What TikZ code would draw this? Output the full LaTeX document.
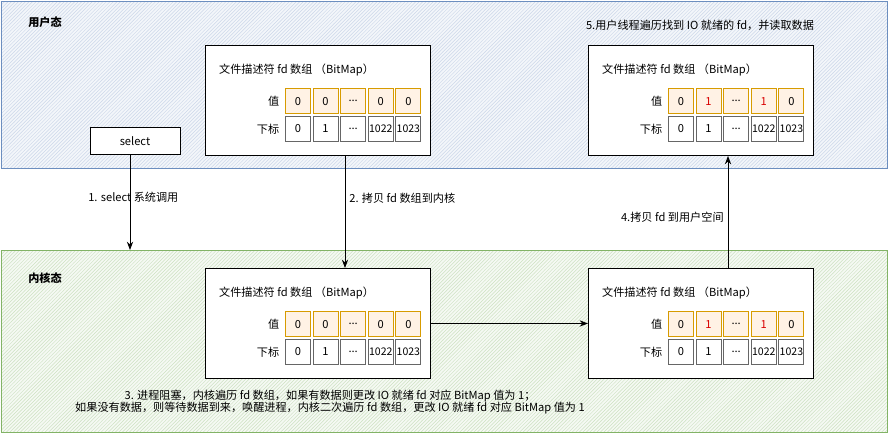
\documentclass[tikz,border=0pt]{standalone}
\usepackage{fontspec}
\setmainfont{Noto Sans CJK SC}
\usepackage{tikz}
\usetikzlibrary{positioning, arrows.meta, patterns}
\definecolor{userblue}{RGB}{108,142,191}
\definecolor{kernelgreen}{RGB}{130,179,102}
\definecolor{cellorange}{RGB}{215,155,0}
\tikzset{
  region/.style={draw, thick},
  block/.style={rectangle, draw, thick, fill=white},
  valcell/.style={rectangle, draw=cellorange, thick, fill=orange!10, minimum width=0.75cm, minimum height=0.75cm, inner sep=0pt},
  idxcell/.style={rectangle, draw=gray!80!black, thick, fill=white, minimum width=0.75cm, minimum height=0.75cm, inner sep=0pt},
  arrow/.style={-{Stealth[length=2.5mm]}, thick},
  lbl/.style={font=\fontsize{9.5}{11}\selectfont},
}
% bitmap box: #1 name, #2 x, #3 y (top-left, px), #4 second value, #5 fourth value, #6 colour of ones
\newcommand{\bitmapbox}[6]{
  \node[block, anchor=north west, minimum width=6.75cm, minimum height=3.3cm] (#1) at (#2,#3) {};
  \node[lbl, anchor=west] (#1t) at ([xshift=0.3cm,yshift=-0.75cm]#1.north west) {文件描述符 fd 数组 （BitMap）};
  \node[valcell, anchor=north west] (#1v0) at ([xshift=2.4cm,yshift=-1.3cm]#1.north west) {0};
  \node[valcell, right=0.05cm of #1v0] (#1v1) {\textcolor{#6}{#4}};
  \node[valcell, right=0.05cm of #1v1] (#1v2) {...};
  \node[valcell, right=0.05cm of #1v2] (#1v3) {\textcolor{#6}{#5}};
  \node[valcell, right=0.05cm of #1v3] (#1v4) {0};
  \node[idxcell, below=0.05cm of #1v0] (#1i0) {0};
  \node[idxcell, below=0.05cm of #1v1] (#1i1) {1};
  \node[idxcell, below=0.05cm of #1v2] (#1i2) {...};
  \node[idxcell, below=0.05cm of #1v3] (#1i3) {\small 1022};
  \node[idxcell, below=0.05cm of #1v4] (#1i4) {\small 1023};
  \node[lbl, left=0.05cm of #1v0] {值};
  \node[lbl, left=0.05cm of #1i0] {下标};
}
\begin{document}
\begin{tikzpicture}[x=0.03cm, y=-0.03cm, font=\fontsize{9.5}{11}\selectfont]
  \useasboundingbox (0,0) rectangle (888,435);

  % regions
  \fill[userblue!8] (1,1) rectangle (887,168);
  \fill[pattern=north east lines, pattern color=userblue!35] (1,1) rectangle (887,168);
  \draw[region, draw=userblue] (1,1) rectangle (887,168);
  \fill[kernelgreen!8] (1,250) rectangle (887,432);
  \fill[pattern=north east lines, pattern color=kernelgreen!40] (1,250) rectangle (887,432);
  \draw[region, draw=kernelgreen] (1,250) rectangle (887,432);
  \node[font=\bfseries\fontsize{9.5}{11}\selectfont] (user) at (45,22) {用户态};
  \node[font=\bfseries\fontsize{9.5}{11}\selectfont] (kernel) at (45,278) {内核态};

  % boxes
  \bitmapbox{ua}{205}{45}{0}{0}{black}
  \bitmapbox{ub}{588}{45}{1}{1}{red!85!black}
  \bitmapbox{ka}{205}{268}{0}{0}{black}
  \bitmapbox{kb}{588}{268}{1}{1}{red!85!black}
  \node[block, minimum width=2.7cm, minimum height=0.8cm] (sel) at (135,141) {select};
  \coordinate (selend) at (130,250);
  \coordinate (cpya) at (345,0);
  \coordinate (cpyb) at (728,0);

  % arrows
  \draw[arrow] (sel.south -| selend) -- node[pos=0.45, xshift=0.1cm] {1. select 系统调用} (selend);
  \draw[arrow] (ua.south -| cpya) -- node[right, pos=0.38] {2. 拷贝 fd 数组到内核} (ka.north -| cpya);
  \draw[arrow] (ka) -- (kb);
  \draw[arrow] (kb.north -| cpyb) -- node[left, pos=0.45] {4.拷贝 fd 到用户空间} (ub.south -| cpyb);

  % notes
  \node (note5) at (700,25) {5.用户线程遍历找到 IO 就绪的 fd，并读取数据};
  \node[align=center] (note3) at (330,402) {3. 进程阻塞，内核遍历 fd 数组，如果有数据则更改 IO 就绪 fd 对应 BitMap 值为 1；\\如果没有数据，则等待数据到来，唤醒进程，内核二次遍历 fd 数组，更改 IO 就绪 fd 对应 BitMap 值为 1};
\end{tikzpicture}
\end{document}
